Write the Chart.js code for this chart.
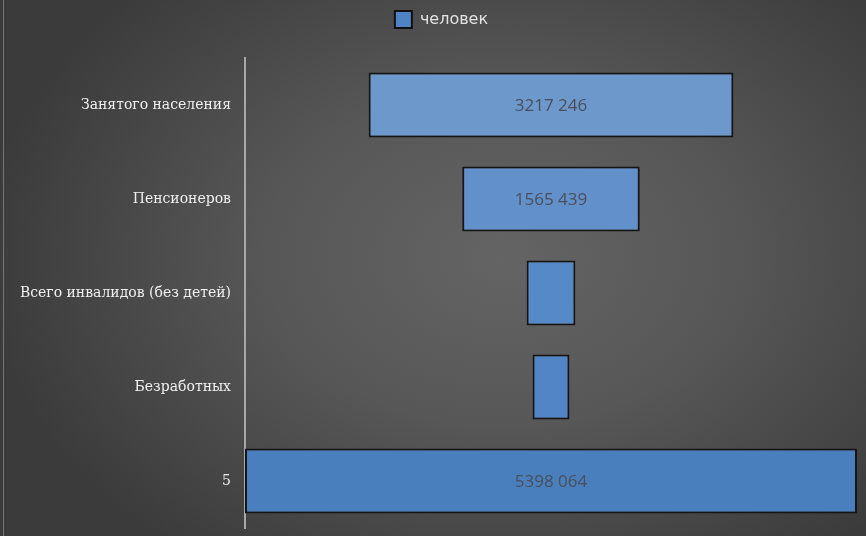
<!DOCTYPE html>
<html>
<head>
<meta charset="utf-8">
<script src="https://cdn.jsdelivr.net/npm/chart.js@4"></script>
<style>
  html, body { margin: 0; padding: 0; }
  body {
    width: 866px; height: 536px; overflow: hidden; position: relative;
    background: radial-gradient(ellipse 60% 70% at 58% 48%, #646464 0%, #575757 45%, #3b3b3b 100%);
  }
  #borda { position: absolute; left: 3px; top: 0; width: 1px; height: 536px; background: #777; }
  #grafico { position: absolute; left: 0; top: 0; }
</style>
</head>
<body>
<div id="borda"></div>
<canvas id="grafico" width="866" height="536"></canvas>
<script>
const categorias = ["Занятого населения", "Пенсионеров", "Всего инвалидов (без детей)", "Безработных", "5"];
const valores = [3217246, 1565439, 430000, 325000, 5398064];
const coresBarras = ["#6c98cc", "#6290cb", "#5689c8", "#5185c5", "#4a7fbe"];

const maximo = Math.max(...valores);
const centro = maximo / 2;

// funil: cada barra flutuante centralizada
const intervalos = valores.map(v => [centro - v / 2, centro + v / 2]);

function formatar(n) {
  const s = String(n);
  return s.length > 3 ? s.slice(0, -3) + " " + s.slice(-3) : s;
}

const rotulos = {
  id: "rotulos",
  afterDatasetsDraw(chart) {
    const ctx = chart.ctx;
    const meta = chart.getDatasetMeta(0);
    ctx.save();
    ctx.font = "17px 'Open Sans', sans-serif";
    ctx.fillStyle = "#4a4f5a";
    ctx.textAlign = "center";
    ctx.textBaseline = "middle";
    meta.data.forEach((bar, i) => {
      const txt = formatar(valores[i]);
      const w = Math.abs(bar.x - bar.base);
      if (w > ctx.measureText(txt).width + 10) {
        ctx.fillText(txt, (bar.x + bar.base) / 2, bar.y + 1);
      }
    });
    ctx.restore();
  }
};

// altura fixa da legenda e deslocamento para a direita
const ajusteLegenda = {
  id: "ajusteLegenda",
  beforeInit(chart) {
    const fitOrig = chart.legend.fit;
    chart.legend.fit = function () {
      fitOrig.bind(chart.legend)();
      this.height = 58;
    };
  },
  afterLayout(chart) {
    chart.legend.left += 13;
    chart.legend.right += 13;
  }
};

new Chart(document.getElementById("grafico").getContext("2d"), {
  type: "bar",
  data: {
    labels: categorias,
    datasets: [{
      label: "человек",
      data: intervalos,
      backgroundColor: coresBarras,
      borderColor: "#151515",
      borderWidth: 2,
      borderSkipped: false,
      barPercentage: 0.69,
      categoryPercentage: 1
    }]
  },
  options: {
    indexAxis: "y",
    responsive: false,
    animation: false,
    layout: { padding: { left: 0, right: 9, top: 0, bottom: 8 } },
    plugins: {
      legend: {
        display: true,
        labels: {
          color: "#e2e2e2",
          font: { family: "'DejaVu Sans', sans-serif", size: 16 },
          boxWidth: 17,
          boxHeight: 17,
          padding: 11,
          generateLabels: () => [{
            text: "человек",
            fillStyle: "#4f84c4",
            strokeStyle: "#111",
            lineWidth: 2,
            fontColor: "#e2e2e2"
          }]
        }
      },
      tooltip: { enabled: false }
    },
    scales: {
      x: {
        display: false,
        min: 0,
        max: maximo
      },
      y: {
        afterFit(scale) {
          scale.width = 245;
          scale.paddingTop = 0;
          scale.paddingBottom = 0;
        },
        grid: { display: false, drawTicks: false },
        border: { display: true, color: "#a8a8a8", width: 2 },
        ticks: {
          color: "#f0f0f0",
          font: { family: "'DejaVu Serif', serif", size: 14 },
          padding: 14
        }
      }
    }
  },
  plugins: [rotulos, ajusteLegenda]
});
</script>
</body>
</html>
